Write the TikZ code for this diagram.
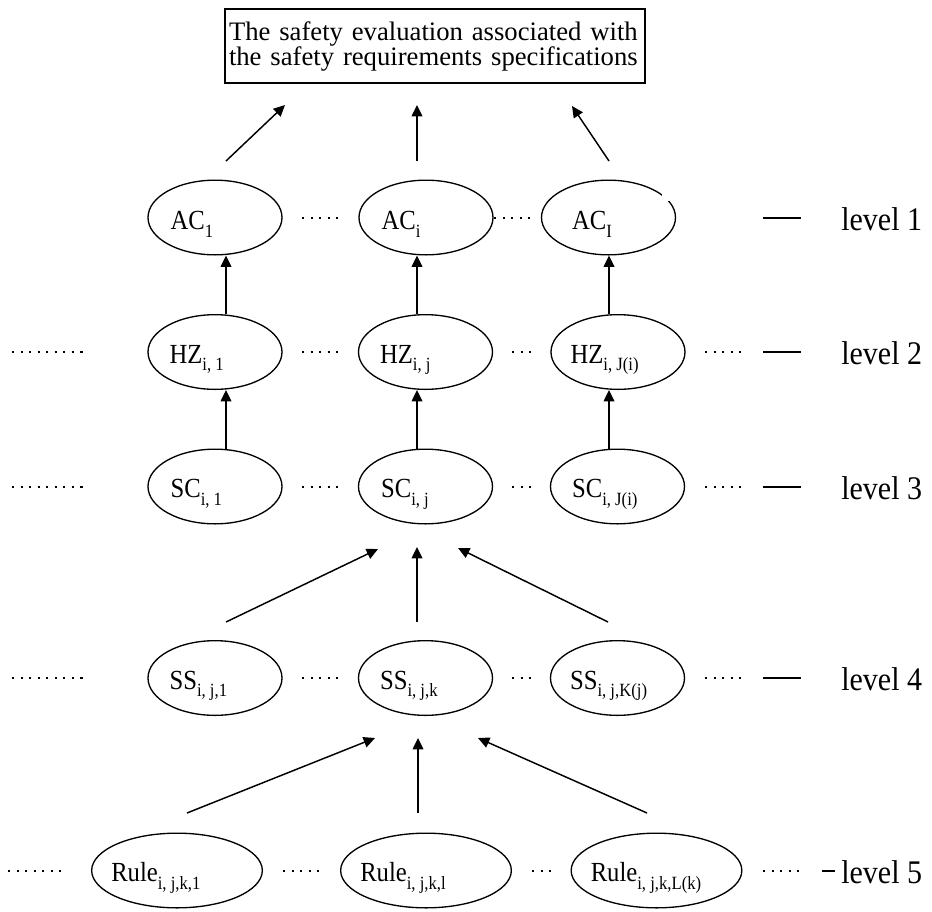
\documentclass[tikz,border=0pt]{standalone}
\usepackage{graphicx}
\usepackage{fontspec}
\setmainfont{Liberation Serif}
\usetikzlibrary{shapes.geometric,arrows.meta,calc}
\newcommand{\vsx}[1]{\scalebox{1}[1.12]{#1}}
\newcommand{\vsl}[1]{\scalebox{1}[1.1]{#1}}
\newcommand{\subx}[1]{\raisebox{-0.28em}{\fontsize{12.5}{14}\selectfont #1}}
\begin{document}
\begin{tikzpicture}[x=0.75pt,y=-0.75pt,
  ell/.style={ellipse,draw,line width=1pt,minimum width=100.5pt,minimum height=56pt,inner sep=0pt},
  rell/.style={ell,minimum width=128pt},
  lbl/.style={inner sep=0pt,anchor=base west,font=\fontsize{18.5}{20}\selectfont},
  arr/.style={line width=1.1pt,-{Triangle[length=8.5pt,width=8pt]}},
  dotrow/.style={line width=1.5pt,dash pattern=on 1.7pt off 4.7pt},
  lvldash/.style={line width=1.5pt},
  lvltext/.style={inner sep=0pt,anchor=base west,font=\fontsize{22.5}{24}\selectfont},
  topbox/.style={draw,line width=1.1pt,text width=309pt,inner sep=3pt,minimum height=55.5pt,align=left,font=\fontsize{20}{18.75}\selectfont}
]
\useasboundingbox (0,0) rectangle (932,911);

% top box
\node[topbox] (box) at (435,46) {\makebox[\linewidth][s]{The safety evaluation associated with}\\\makebox[\linewidth][s]{the safety requirements specifications}};

% level 1
\node[ell] (AC1) at (215,217.5) {};
\node[ell] (ACi) at (426,217.5) {};
\node[ell] (ACI) at (608.5,217.5) {};
% level 2
\node[ell] (HZ1) at (215,352) {};
\node[ell] (HZj) at (425.5,352) {};
\node[ell] (HZJ) at (618,352) {};
% level 3
\node[ell] (SC1) at (215,486.5) {};
\node[ell] (SCj) at (425.5,486.5) {};
\node[ell] (SCJ) at (617.5,486.5) {};
% level 4
\node[ell] (SS1) at (215,678) {};
\node[ell] (SSk) at (425.5,678) {};
\node[ell] (SSK) at (617.5,678) {};
% level 5
\node[rell] (R1) at (177,870.5) {};
\node[rell] (Rl) at (426,870.5) {};
\node[rell] (RL) at (656.5,870.5) {};

% small break in the outline of AC_I
\fill[white] (662,192) rectangle (673,201);

% labels
\node[lbl] (tAC1) at ($(AC1.west)+(23,12)$) {\vsx{AC\subx{1}}};
\node[lbl] (tACi) at ($(ACi.west)+(23,12)$) {\vsx{AC\subx{i}}};
\node[lbl] (tACI) at ($(ACI.west)+(31,12)$) {\vsx{AC\subx{I}}};
\node[lbl] (tHZ1) at ($(HZ1.west)+(22,11)$) {\vsx{HZ\subx{i, 1}}};
\node[lbl] (tHZj) at ($(HZj.west)+(22,11)$) {\vsx{HZ\subx{i, j}}};
\node[lbl] (tHZJ) at ($(HZJ.west)+(20,11)$) {\vsx{HZ\subx{i, J(i)}}};
\node[lbl] (tSC1) at ($(SC1.west)+(23,11)$) {\vsx{SC\subx{i, 1}}};
\node[lbl] (tSCj) at ($(SCj.west)+(23,11)$) {\vsx{SC\subx{i, j}}};
\node[lbl] (tSCJ) at ($(SCJ.west)+(22,11)$) {\vsx{SC\subx{i, J(i)}}};
\node[lbl] (tSS1) at ($(SS1.west)+(22,11)$) {\vsx{SS\subx{i, j,1}}};
\node[lbl] (tSSk) at ($(SSk.west)+(22,11)$) {\vsx{SS\subx{i, j,k}}};
\node[lbl] (tSSK) at ($(SSK.west)+(20,11)$) {\vsx{SS\subx{i, j,K(j)}}};
\node[lbl] (tR1) at ($(R1.west)+(20,11)$) {\vsx{Rule\subx{i, j,k,1}}};
\node[lbl] (tRl) at ($(Rl.west)+(20,11)$) {\vsx{Rule\subx{i, j,k,l}}};
\node[lbl] (tRL) at ($(RL.west)+(20,11)$) {\vsx{Rule\subx{i, j,k,L(k)}}};

% column coordinates
\coordinate (cA) at (226,0);
\coordinate (cB) at (417,0);
\coordinate (cC) at (609,0);

% level 1 -> box
\coordinate (t1s) at (226,161); \coordinate (t1e) at (285,105);
\coordinate (t2s) at (417,161); \coordinate (t2e) at (417,105);
\coordinate (t3s) at (609,161); \coordinate (t3e) at (572,106);
\draw[arr] (t1s) -- (t1e);
\draw[arr] (t2s) -- (t2e);
\draw[arr] (t3s) -- (t3e);

% level 2 -> level 1
\draw[arr] (HZ1.north -| cA) -- (AC1.south -| cA);
\draw[arr] (HZj.north -| cB) -- (ACi.south -| cB);
\draw[arr] (HZJ.north -| cC) -- (ACI.south -| cC);
% level 3 -> level 2
\draw[arr] (SC1.north -| cA) -- (HZ1.south -| cA);
\draw[arr] (SCj.north -| cB) -- (HZj.south -| cB);
\draw[arr] (SCJ.north -| cC) -- (HZJ.south -| cC);

% level 4 -> level 3
\coordinate (m1s) at (226,622); \coordinate (m1e) at (378,549);
\coordinate (m2s) at (417,622); \coordinate (m2e) at (417,547);
\coordinate (m3s) at (608,622); \coordinate (m3e) at (458,548);
\draw[arr] (m1s) -- (m1e);
\draw[arr] (m2s) -- (m2e);
\draw[arr] (m3s) -- (m3e);

% level 5 -> level 4
\coordinate (b1s) at (187,813); \coordinate (b1e) at (375,738);
\coordinate (b2s) at (418,813); \coordinate (b2e) at (418,738);
\coordinate (b3s) at (647,813); \coordinate (b3e) at (478,738);
\draw[arr] (b1s) -- (b1e);
\draw[arr] (b2s) -- (b2e);
\draw[arr] (b3s) -- (b3e);

% dotted rows
\draw[dotrow] (302,217.5) -- (338,217.5);
\draw[dotrow] (494,217.5) -- (530,217.5);
\foreach \yy in {352,486.5,678}{
  \draw[dotrow] (12,\yy) -- (88,\yy);
  \draw[dotrow] (302,\yy) -- (338,\yy);
  \draw[dotrow] (512,\yy) -- (532,\yy);
  \draw[dotrow] (705,\yy) -- (741,\yy);
}
\draw[dotrow] (8,870.5) -- (62,870.5);
\draw[dotrow] (283,870.5) -- (319,870.5);
\draw[dotrow] (532,870.5) -- (553,870.5);
\draw[dotrow] (763,870.5) -- (799,870.5);

% level markers
\draw[lvldash] (763,217.5) -- (801,217.5);
\draw[lvldash] (763,352) -- (801,352);
\draw[lvldash] (763,486.5) -- (801,486.5);
\draw[lvldash] (763,678) -- (801,678);
\draw[lvldash] (822,870.5) -- (835,870.5);
\node[lvltext] (lv1) at (841,230) {\vsl{level 1}};
\node[lvltext] (lv2) at (841,364.5) {\vsl{level 2}};
\node[lvltext] (lv3) at (841,499) {\vsl{level 3}};
\node[lvltext] (lv4) at (841,690.5) {\vsl{level 4}};
\node[lvltext] (lv5) at (841,883) {\vsl{level 5}};
\end{tikzpicture}
\end{document}
